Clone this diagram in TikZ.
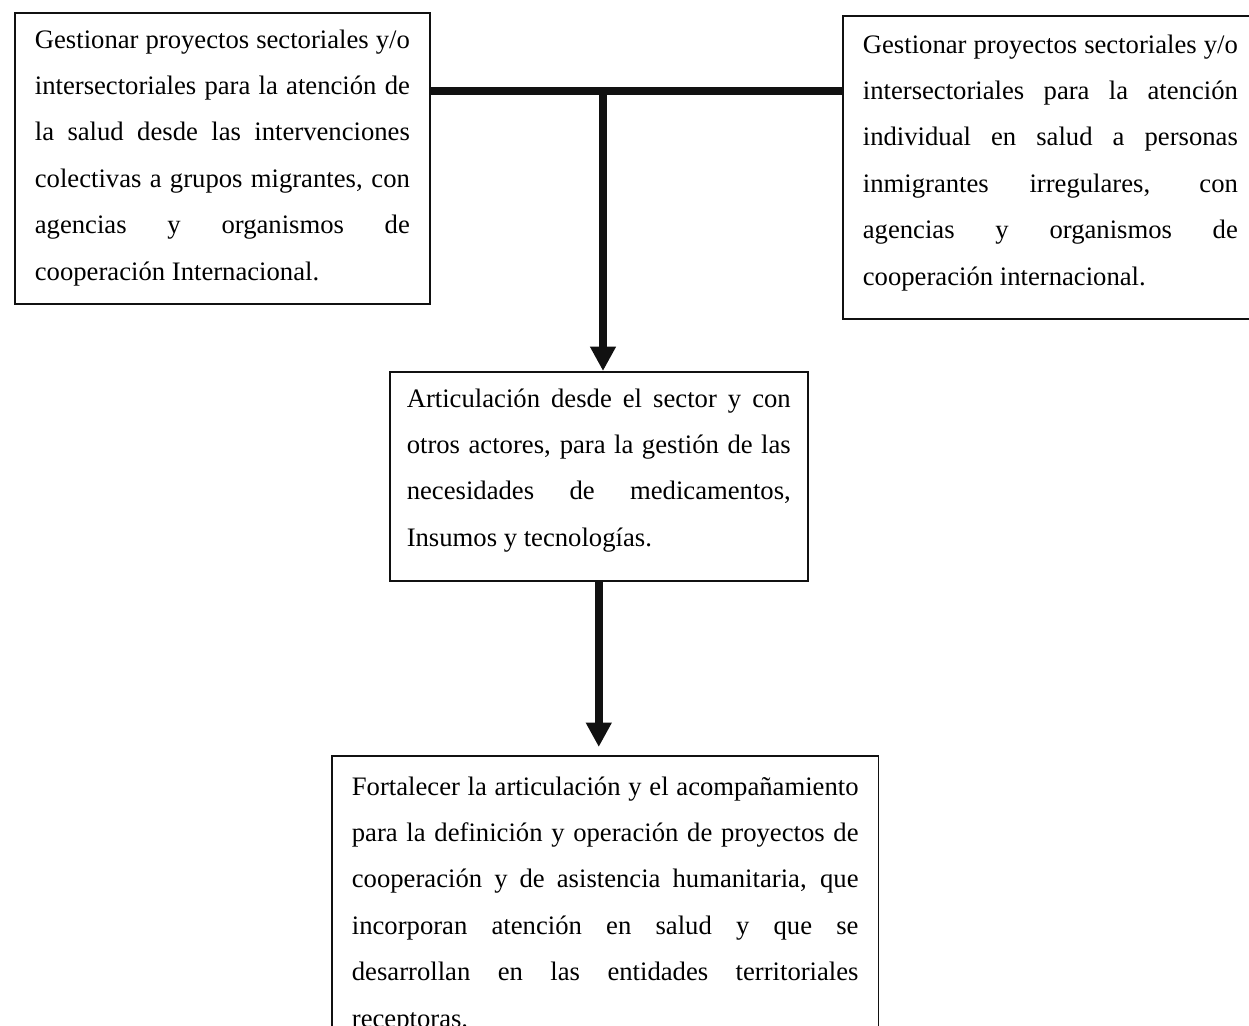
\documentclass[tikz,border=0pt]{standalone}
\usepackage{fontspec}
\setmainfont{Liberation Serif}
\usepackage{xcolor}
\usepackage{tikz}
\usetikzlibrary{arrows.meta,positioning}
\definecolor{Ink}{HTML}{111111}
\tolerance=10000
\hbadness=10000
\hyphenpenalty=10000

\tikzset{
  taskbox/.style={draw=Ink,line width=0.8pt,anchor=north west,align=justify,
    inner xsep=9pt,inner ysep=7.5pt,font=\fontsize{12pt}{20.9pt}\selectfont},
  link/.style={Ink,line width=3.6pt},
  flow/.style={link,-{Triangle[width=11pt,length=11pt]}}
}

\begin{document}
\begin{tikzpicture}[x=0.45pt,y=-0.45pt]
  \useasboundingbox (0,0) rectangle (1249,1026);
  % top row
  \node[taskbox,text width=168.75pt] (colect) at (14,12) {Gestionar proyectos sectoriales y/o\linebreak
    intersectoriales para la atención de\linebreak la salud desde las intervenciones\linebreak
    colectivas a grupos migrantes, con\linebreak agencias y organismos de\linebreak
    cooperación Internacional.\par\kern0.7pt};
  \node[taskbox,text width=168.75pt,inner ysep=8.4pt] (indiv) at (842,15) {Gestionar proyectos sectoriales y/o\linebreak
    intersectoriales para la atención\linebreak individual en salud a personas\linebreak
    inmigrantes irregulares, con\linebreak agencias y organismos de\linebreak
    cooperación internacional.\par\kern4.3pt};
  % middle and bottom
  \node[taskbox,text width=172.8pt,inner xsep=7.6pt] (medic) at (389,371) {Articulación desde el sector y con\linebreak
    otros actores, para la gestión de las\linebreak necesidades de medicamentos,\linebreak
    Insumos y tecnologías.\par\kern5.6pt};
  \node[taskbox,text width=228pt,inner ysep=9.3pt] (fortal) at (331,755) {Fortalecer la articulación y el acompañamiento\linebreak
    para la definición y operación de proyectos de\linebreak
    cooperación y de asistencia humanitaria, que\linebreak
    incorporan atención en salud y que se\linebreak
    desarrollan en las entidades territoriales\linebreak receptoras.};
  \coordinate (split) at (603,91);
  \draw[link] (colect.east |- split) -- (indiv.west |- split);
  \draw[flow] (split) -- (split |- medic.north);
  \draw[flow,shorten >=3.6pt] (medic.south) -- (medic.south |- fortal.north);
\end{tikzpicture}
\end{document}
